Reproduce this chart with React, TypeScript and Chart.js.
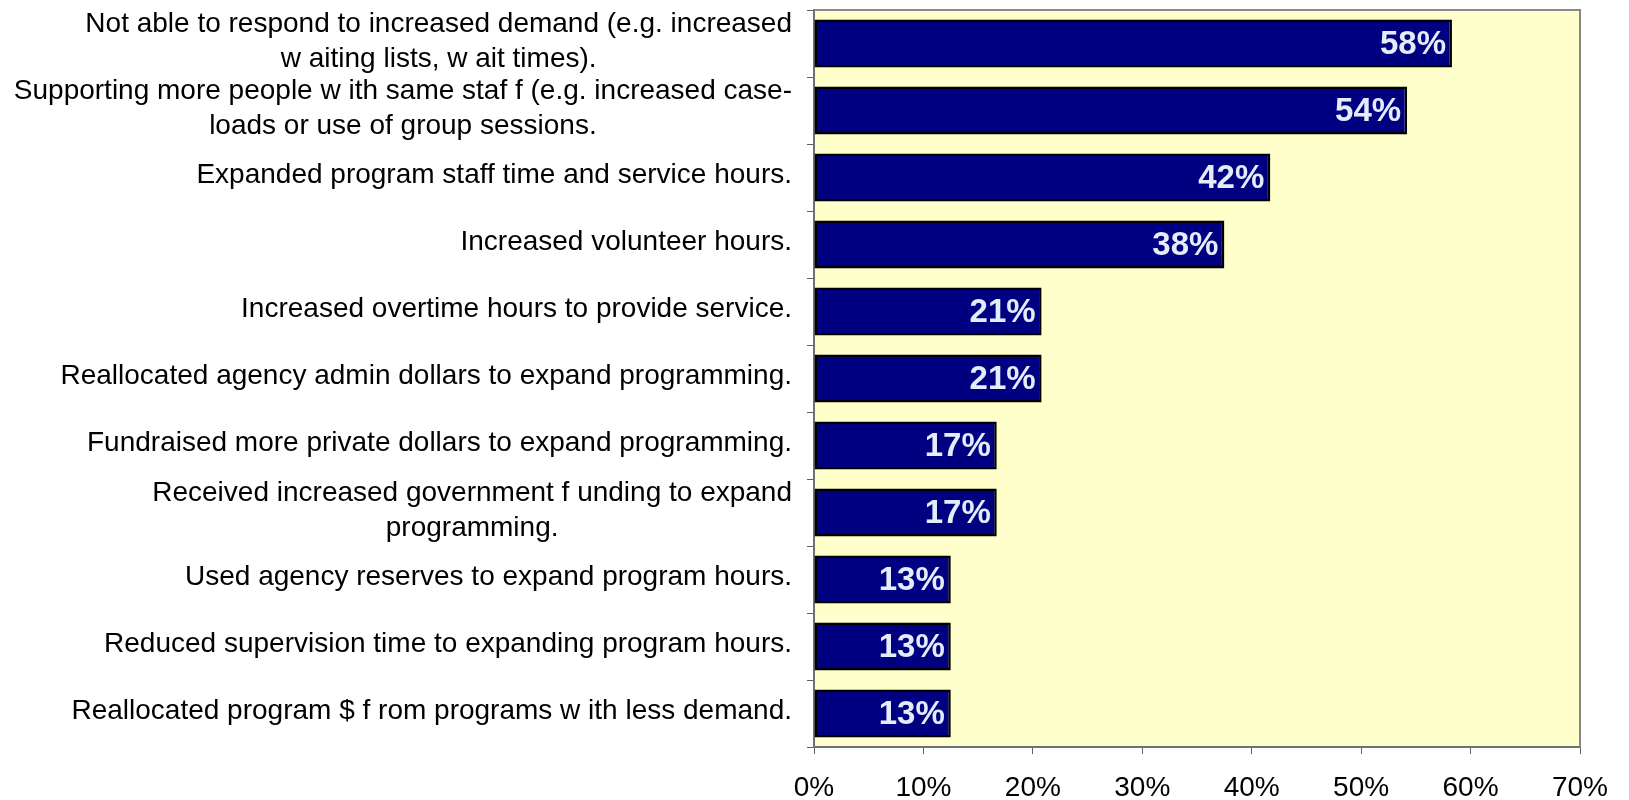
import React, { useEffect, useRef } from "react";
import { Chart, registerables } from "chart.js";

Chart.register(...registerables);

const categories: string[][] = [
  ["Not able to respond to increased demand (e.g. increased", "w aiting lists, w ait times)."],
  ["Supporting more people w ith same staf f (e.g. increased case-", "loads or use of group sessions."],
  ["Expanded program staff time and service hours."],
  ["Increased volunteer hours."],
  ["Increased overtime hours to provide service."],
  ["Reallocated agency admin dollars to expand programming."],
  ["Fundraised more private dollars to expand programming."],
  ["Received increased government f unding to expand", "programming."],
  ["Used agency reserves to expand program hours."],
  ["Reduced supervision time to expanding program hours."],
  ["Reallocated program $ f rom programs w ith less demand."],
];

const values: number[] = [58.3, 54.2, 41.7, 37.5, 20.8, 20.8, 16.7, 16.7, 12.5, 12.5, 12.5];
const valueLabels: string[] = ["58%", "54%", "42%", "38%", "21%", "21%", "17%", "17%", "13%", "13%", "13%"];
const xTicks: number[] = [0, 10, 20, 30, 40, 50, 60, 70];

const FONT = "'Liberation Sans', Arial, sans-serif";

const plotBg = {
  id: "plotBg",
  beforeDraw(chart: any) {
    const { ctx, chartArea: a } = chart;
    ctx.save();
    ctx.fillStyle = "#FFFFCC";
    ctx.fillRect(a.left, a.top, a.right - a.left, a.bottom - a.top);
    ctx.restore();
  },
  afterDraw(chart: any) {
    const { ctx, chartArea: a } = chart;
    ctx.save();
    ctx.strokeStyle = "#888888";
    ctx.lineWidth = 2;
    ctx.beginPath();
    ctx.moveTo(a.left, a.top);
    ctx.lineTo(a.right, a.top);
    ctx.lineTo(a.right, a.bottom);
    ctx.stroke();
    ctx.restore();
  },
};

const barLabels = {
  id: "barLabels",
  afterDatasetsDraw(chart: any) {
    const { ctx } = chart;
    const meta = chart.getDatasetMeta(0);
    ctx.save();
    ctx.font = `bold 33px ${FONT}`;
    ctx.fillStyle = "#E4ECFA";
    ctx.textAlign = "right";
    ctx.textBaseline = "middle";
    meta.data.forEach((bar: any, i: number) => {
      ctx.fillText(valueLabels[i], bar.x - 6, bar.y + 1);
    });
    ctx.restore();
  },
};

const catLabels = {
  id: "catLabels",
  afterDraw(chart: any) {
    const { ctx } = chart;
    const yScale = chart.scales.y;
    const right = 792;
    const lh = 35;
    ctx.save();
    ctx.font = `28px ${FONT}`;
    ctx.fillStyle = "#000000";
    ctx.textAlign = "center";
    ctx.textBaseline = "middle";
    categories.forEach((lines, i) => {
      const y = yScale.getPixelForValue(i);
      const w = Math.max(...lines.map((l) => ctx.measureText(l).width));
      const cx = right - w / 2;
      lines.forEach((l, j) => {
        ctx.fillText(l, cx, y - 2 + (j - (lines.length - 1) / 2) * lh);
      });
    });
    ctx.restore();
  },
};

export default function App() {
  const ref = useRef<HTMLCanvasElement | null>(null);
  useEffect(() => {
    if (!ref.current) return;
    const chart = new Chart(ref.current, {
      type: "bar",
      data: {
        labels: categories.map((c) => c.join(" ")),
        datasets: [
          {
            data: values,
            backgroundColor: "#000080",
            borderColor: "#000000",
            borderWidth: 2.5,
            borderSkipped: false,
            categoryPercentage: 1,
            barPercentage: 0.715,
          },
        ],
      },
      options: {
        indexAxis: "y",
        animation: false,
        responsive: true,
        maintainAspectRatio: false,
        layout: { padding: { top: 10, right: 49, left: 0, bottom: 0 } },
        plugins: { legend: { display: false }, tooltip: { enabled: false } },
        scales: {
          x: {
            min: 0,
            max: 70,
            afterBuildTicks: (s: any) => {
              s.ticks = xTicks.map((v) => ({ value: v }));
            },
            afterFit: (s: any) => {
              s.height = 53;
            },
            ticks: {
              callback: (v: any) => `${v}%`,
              font: { family: FONT, size: 28 },
              color: "#000000",
              padding: 17,
              maxRotation: 0,
            },
            grid: { drawOnChartArea: false, drawTicks: true, tickLength: 7, color: "#606060", lineWidth: 1 },
            border: { display: true, color: "#707070", width: 2 },
          },
          y: {
            afterFit: (s: any) => {
              s.width = 814;
            },
            ticks: { color: "rgba(0,0,0,0)", font: { size: 1 } },
            grid: { drawOnChartArea: false, drawTicks: true, tickLength: 7, color: "#606060", lineWidth: 1, offset: true },
            border: { display: true, color: "#707070", width: 2 },
          },
        },
      },
      plugins: [plotBg, barLabels, catLabels],
    });
    return () => chart.destroy();
  }, []);
  return (
    <div style={{ position: "fixed", left: 0, top: 0, width: 1629, height: 800 }}>
      <canvas ref={ref} />
    </div>
  );
}
